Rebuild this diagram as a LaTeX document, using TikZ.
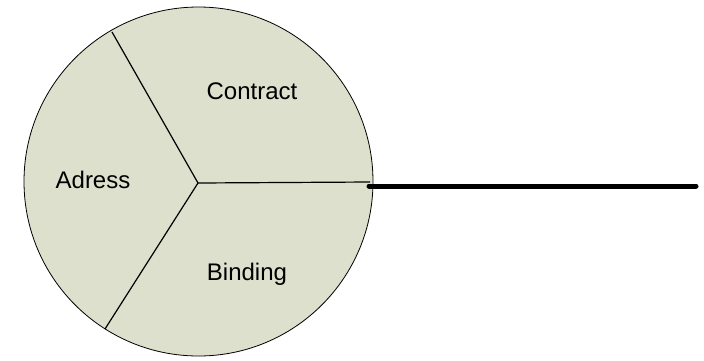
\documentclass[tikz,border=0pt]{standalone}
\usepackage{fontspec}
\setmainfont{Liberation Sans}
\definecolor{pie}{RGB}{221,224,204}
\begin{document}
\begin{tikzpicture}[x=1pt,y=-1pt,
  spoke/.style={draw=black,line width=1.2pt},
  label/.style={font=\fontsize{24}{28}\selectfont,anchor=base,inner sep=0pt},
  stem/.style={draw=black,line width=5pt,line cap=round}]
\useasboundingbox (0,0) rectangle (704,360);
% the pie
\node[circle,draw=black,fill=pie,line width=0.8pt,minimum size=349pt,inner sep=0pt] (pie) at (198.5,181.5) {};
\coordinate (hub) at (198,183);
\coordinate (top) at (112,32);
\coordinate (bot) at (105,329);
\coordinate (rim) at (370,182);
\draw[spoke] (hub) -- (top);
\draw[spoke] (hub) -- (bot);
\draw[spoke] (hub) -- (rim);
% sector labels
\node[label] (contract) at (252,99) {Contract};
\node[label] (adress) at (93,188) {Adress};
\node[label] (binding) at (247,280) {Binding};
% outgoing line
\coordinate (start) at (369,186);
\coordinate (tail) at (696,186);
\draw[stem] (start) -- (tail);
\end{tikzpicture}
\end{document}
